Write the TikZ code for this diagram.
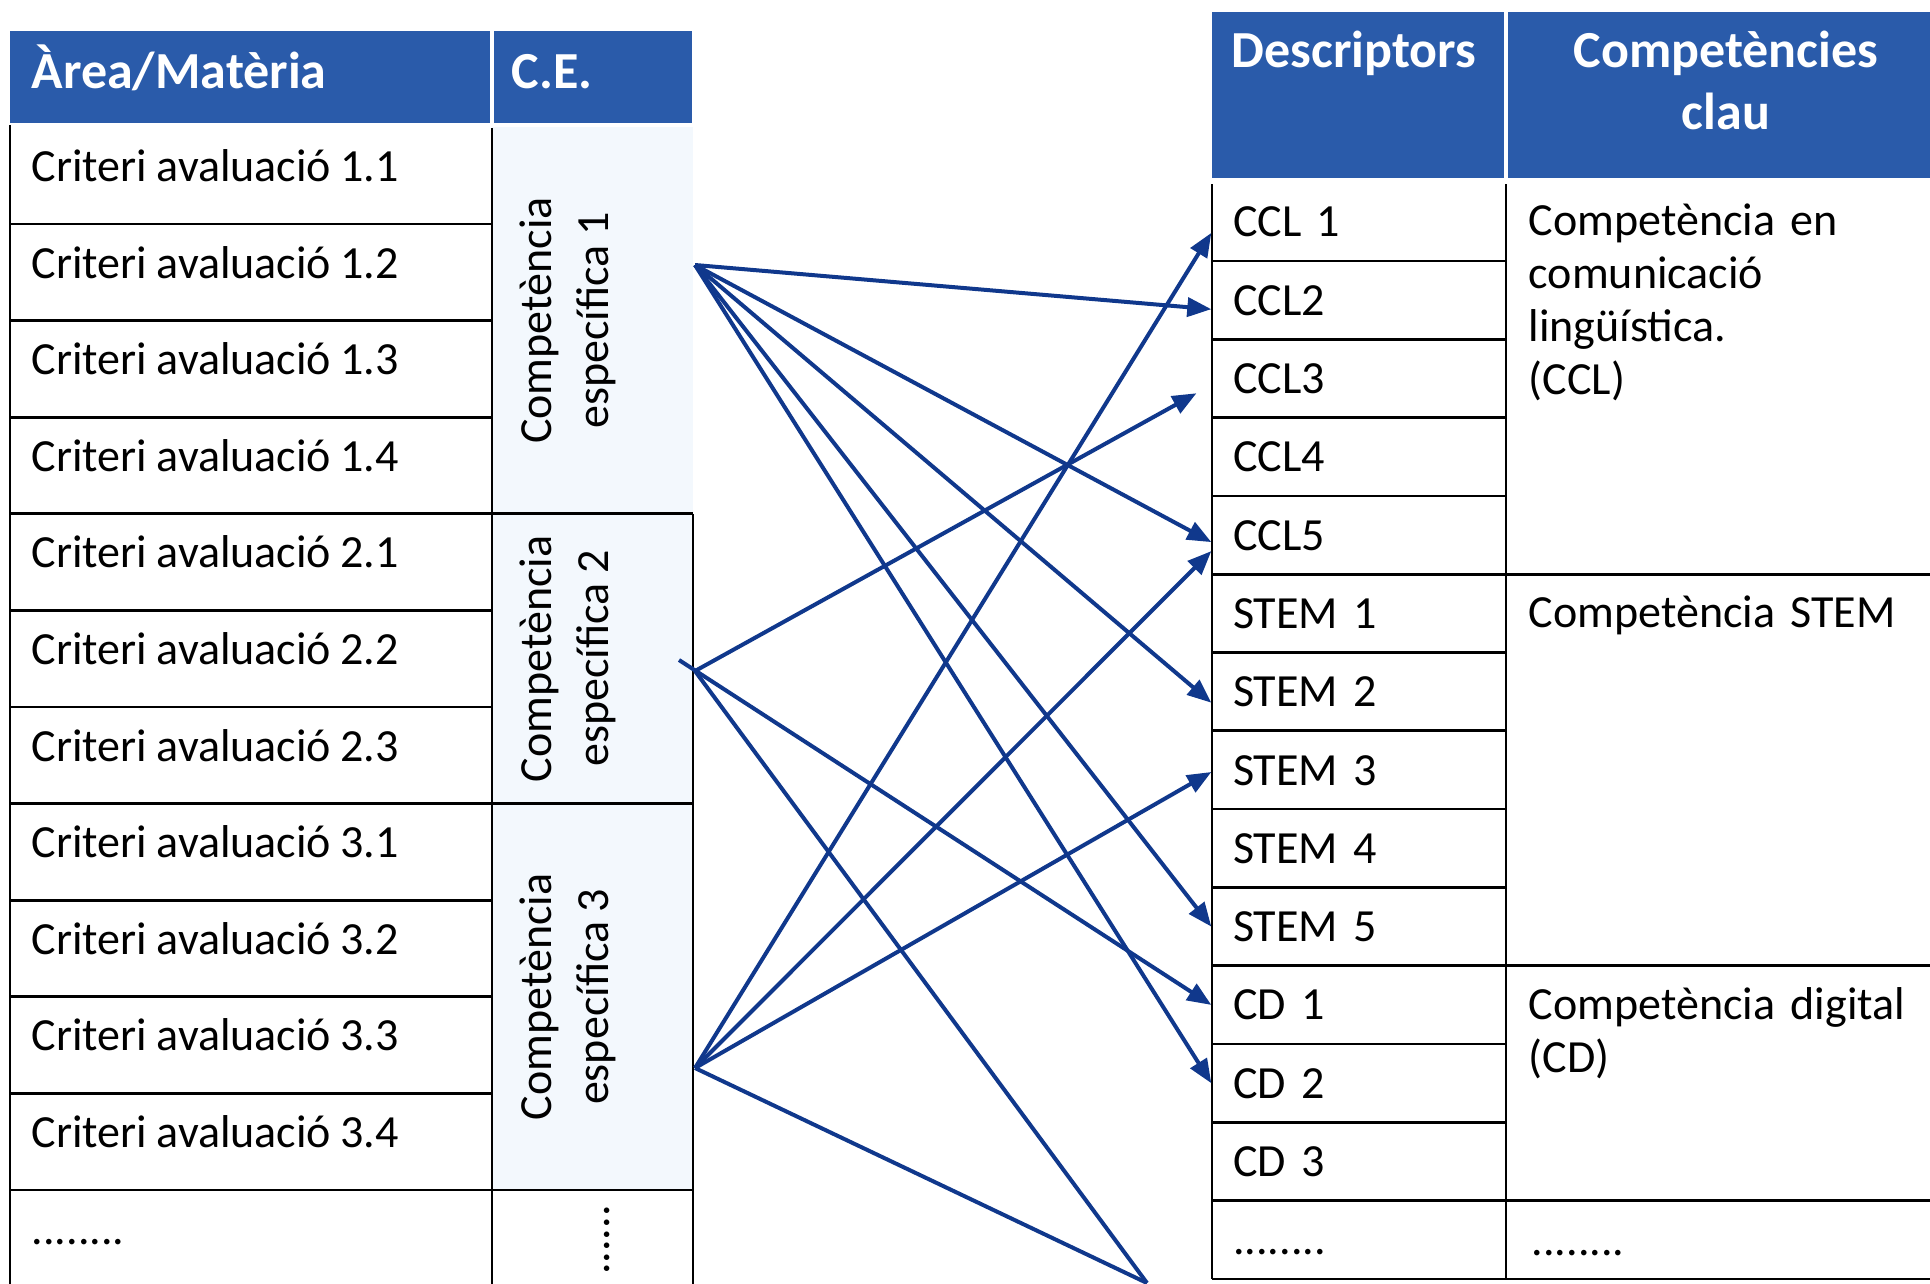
\documentclass[tikz,border=0pt]{standalone}
\usepackage{fontspec}
\setmainfont{Carlito}[WordSpace=0.9]
\usepackage{xcolor}
\usetikzlibrary{arrows.meta}
\definecolor{headblue}{RGB}{42,91,170}
\definecolor{linkblue}{RGB}{16,56,140}
\definecolor{cefill}{RGB}{243,248,253}

\begin{document}
\begin{tikzpicture}[x=0.1mm,y=-0.1mm,
    head/.style={text=white,inner sep=0pt,font=\fontsize{14.8}{17.9}\selectfont\bfseries},
    crit/.style={anchor=base west,inner sep=0pt,font=\fontsize{13.1}{15.1}\selectfont},
    desc/.style={inner xsep=2.1mm,inner ysep=0pt,text width=25.2mm,minimum height=7.83mm,
        text height=3mm,text depth=0pt,align=left,font=\fontsize{13.1}{15.1}\selectfont},
    keytxt/.style={anchor=base west,inner sep=0pt,text width=42mm,align=left,font=\fontsize{13.1}{15.1}\selectfont},
    cetxt/.style={rotate=90,align=center,inner sep=0pt,font=\fontsize{13.1}{16.2}\selectfont},
    gridline/.style={line width=0.27mm,black},
    link/.style={line width=0.4mm,linkblue,-{Triangle[length=2.4mm,width=1.9mm]}}]
\useasboundingbox (0,0) rectangle (1930,1283);
\clip (0,0) rectangle (1930,1283);

    % headers
    \fill[headblue] (10,31) rectangle (490,123);
    \fill[headblue] (494,31) rectangle (692,123);
    \fill[headblue] (1212,12) rectangle (1504,178);
    \fill[headblue] (1508,12) rectangle (1930,178);
    \node[head,anchor=base west] (hArea) at (31,88) {Àrea/Matèria};
    \node[head,anchor=base west] (hCE) at (511,88) {C.E.};
    \node[head,anchor=base west] (hDesc) at (1231,67) {Descriptors};
    \node[head,anchor=base,text width=40mm,align=center] (hKey) at (1726,67) {Competències\\clau};

    % left table
    \fill[cefill] (492,127.4) rectangle (693,1190);
    \draw[gridline] (10,125) -- (10,1300);
    \draw[gridline] (492,128) -- (492,1300);
    \draw[gridline] (693,513.8) -- (693,1300);
    \draw[gridline] (10,224)--(492,224) (10,320.6)--(492,320.6) (10,417.2)--(492,417.2)
        (10,513.8)--(693,513.8) (10,610.4)--(492,610.4) (10,707)--(492,707)
        (10,803.6)--(693,803.6) (10,900.2)--(492,900.2) (10,996.8)--(492,996.8)
        (10,1093.4)--(492,1093.4) (10,1190)--(693,1190);
    \node[crit] (c1) at (31,181.4) {Criteri avaluació 1.1};
    \node[crit] (c2) at (31,278) {Criteri avaluació 1.2};
    \node[crit] (c3) at (31,374.6) {Criteri avaluació 1.3};
    \node[crit] (c4) at (31,471.2) {Criteri avaluació 1.4};
    \node[crit] (c5) at (31,567.8) {Criteri avaluació 2.1};
    \node[crit] (c6) at (31,664.4) {Criteri avaluació 2.2};
    \node[crit] (c7) at (31,761) {Criteri avaluació 2.3};
    \node[crit] (c8) at (31,857.6) {Criteri avaluació 3.1};
    \node[crit] (c9) at (31,954.2) {Criteri avaluació 3.2};
    \node[crit] (c10) at (31,1050.8) {Criteri avaluació 3.3};
    \node[crit] (c11) at (31,1147.4) {Criteri avaluació 3.4};
    \node[crit] (cDots) at (31,1244) {........};
    \node[cetxt] (ce1) at (568,320.6) {Competència\\específica 1};
    \node[cetxt] (ce2) at (568,658.7) {Competència\\específica 2};
    \node[cetxt] (ce3) at (568,996.8) {Competència\\específica 3};
    \node[cetxt] (ceDots) at (607,1240) {......};

    % right table
    \draw[gridline] (1212,184) -- (1212,1278.9);
    \draw[gridline] (1506,184) -- (1506,1278.9);
    \draw[gridline] (1212,261)--(1506,261) (1212,339.3)--(1506,339.3) (1212,417.6)--(1506,417.6)
        (1212,495.9)--(1506,495.9) (1212,574.2)--(1930,574.2) (1212,652.5)--(1506,652.5)
        (1212,730.8)--(1506,730.8) (1212,809.1)--(1506,809.1) (1212,887.4)--(1506,887.4)
        (1212,965.7)--(1930,965.7) (1212,1044)--(1506,1044) (1212,1122.3)--(1506,1122.3)
        (1212,1200.6)--(1930,1200.6) (1212,1278.9)--(1930,1278.9);
    \node[desc] (d0) at (1359,221.9) {CCL 1};
    \node[desc] (d1) at (1359,300.2) {CCL2};
    \node[desc] (d2) at (1359,378.5) {CCL3};
    \node[desc] (d3) at (1359,456.8) {CCL4};
    \node[desc] (d4) at (1359,535.1) {CCL5};
    \node[desc] (d5) at (1359,613.4) {STEM 1};
    \node[desc] (d6) at (1359,691.7) {STEM 2};
    \node[desc] (d7) at (1359,770) {STEM 3};
    \node[desc] (d8) at (1359,848.3) {STEM 4};
    \node[desc] (d9) at (1359,926.6) {STEM 5};
    \node[desc] (d10) at (1359,1004.9) {CD 1};
    \node[desc] (d11) at (1359,1083.2) {CD 2};
    \node[desc] (d12) at (1359,1161.5) {CD 3};
    \node[desc] (d13) at (1359,1239.8) {........};
    \node[keytxt] (kCCL) at (1528,235) {Competència en\\comunicació\\lingüística.\\(CCL)};
    \node[keytxt] (kSTEM) at (1528,627) {Competència STEM};
    \node[keytxt] (kCD) at (1528,1019) {Competència digital\\(CD)};
    \node[keytxt] (kDots) at (1531,1255) {........};

    %points
    \coordinate (s1) at (695,265);
    \coordinate (s2) at (695,671);
    \coordinate (s2a) at (679,660);
    \coordinate (s3) at (695,1068);
    \coordinate (cut) at (1147,1283);

    % links
    \draw[link] (s1) -- ([yshift=-0.9mm]d1.west);
    \draw[link] (s1) -- ([yshift=-0.7mm]d4.west);
    \draw[link] (s1) -- ([yshift=-1.1mm]d6.west);
    \draw[link] (s1) -- (d9.west);
    \draw[link] (s1) -- (d11.west);
    \draw[link,shorten >=1.7mm] (s2) -- ([yshift=-0.65mm]d2.west);
    \draw[link] (s2a) -- (d10.west);
    \draw[link,-] (s2) -- (cut);
    \draw[link] (s3) -- ([yshift=-1.1mm]d0.west);
    \draw[link] (s3) -- ([yshift=-1.6mm]d4.west);
    \draw[link] (s3) -- ([yshift=-0.2mm]d7.west);
    \draw[link,-] (s3) -- (cut);
\end{tikzpicture}
\end{document}
